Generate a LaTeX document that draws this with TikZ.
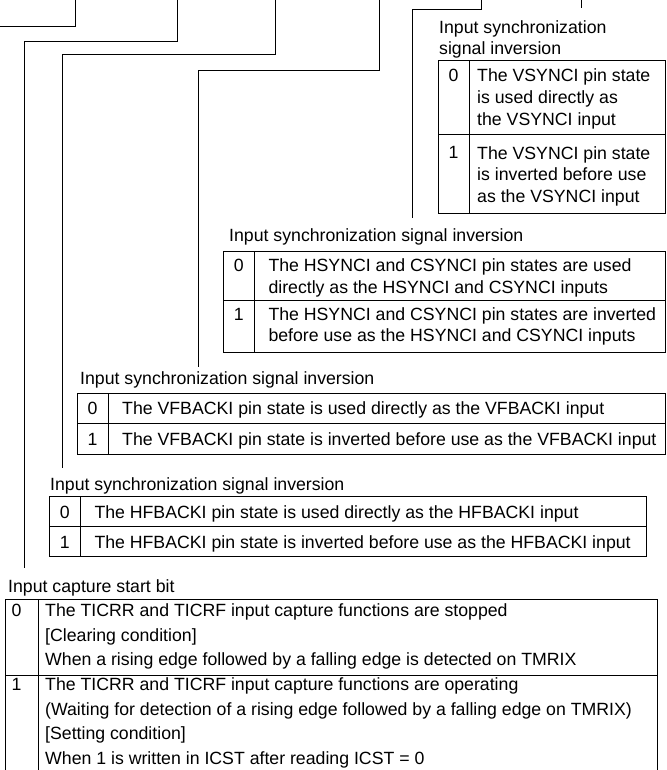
\documentclass[tikz,border=0pt]{standalone}
\usepackage{fontspec}
\setmainfont{Liberation Sans}
\newcommand{\fstrut}{\rule{0pt}{15pt}}
\begin{document}
\begin{tikzpicture}[x=1pt,y=-1pt,
  conn/.style={draw=black, line width=1pt},
  grid/.style={draw=black, line width=1pt},
  txt/.style={anchor=base west, inner sep=0pt, font=\fontsize{17.7}{21.7}\selectfont},
  mtxt/.style={anchor=north west, inner sep=0pt, align=left, font=\fontsize{17.7}{21.7}\selectfont},
  mtxtw/.style={anchor=north west, inner sep=0pt, align=left, font=\fontsize{17.7}{24.5}\selectfont},
  dig/.style={anchor=base, inner sep=0pt, font=\fontsize{17.7}{21.7}\selectfont}]
\useasboundingbox (0,0) rectangle (666,770);

% ---------- connectors ----------
\coordinate (t1) at (75.7,0);  \coordinate (e1) at (0,27);
\coordinate (t2) at (177,0);   \coordinate (k2) at (24.5,41.7);  \coordinate (e2) at (24.5,568);
\coordinate (t3) at (275.7,0); \coordinate (k3) at (62.5,55);    \coordinate (e3) at (62.5,468);
\coordinate (t4) at (379,0);   \coordinate (k4) at (198,70.3);   \coordinate (e4) at (198,367);
\coordinate (t5) at (481.7,0); \coordinate (k5) at (412,10);     \coordinate (e5) at (412,218);
\coordinate (t6) at (581,0);   \coordinate (e6) at (581,8);
\draw[conn] (t1) |- (e1);
\draw[conn] (t2) |- (k2) -- (e2);
\draw[conn] (t3) |- (k3) -- (e3);
\draw[conn] (t4) |- (k4) -- (e4);
\draw[conn] (t5) |- (k5) -- (e5);
\draw[conn] (t6) -- (e6);

% ---------- VSYNCI table ----------
\node[mtxt, font=\fontsize{17.7}{21}\selectfont] (vslab) at (439,18) {\fstrut Input synchronization\\signal inversion};
\draw[grid] (438,61) rectangle (665,213);
\draw[grid] (438,135) -- (665,135);
\draw[grid] (469,61) -- (469,213);
\node[dig] (vs0) at (453.5,81.5) {0};
\node[mtxt] (vs0t) at (477,66.5) {\fstrut The VSYNCI pin state\\is used directly as\\the VSYNCI input};
\node[dig] (vs1) at (453.5,159) {1};
\node[mtxt] (vs1t) at (477,144) {\fstrut The VSYNCI pin state\\is inverted before use\\as the VSYNCI input};

% ---------- HSYNCI table ----------
\node[txt] (hslab) at (229,241) {Input synchronization signal inversion};
\draw[grid] (223.3,251.7) rectangle (665,352.7);
\draw[grid] (223.3,300) -- (665,300);
\draw[grid] (254.3,251.7) -- (254.3,352.7);
\node[dig] (hs0) at (238.8,271.5) {0};
\node[mtxt] (hs0t) at (268.3,256.5) {\fstrut The HSYNCI and CSYNCI pin states are used\\directly as the HSYNCI and CSYNCI inputs};
\node[dig] (hs1) at (238.8,320) {1};
\node[mtxt] (hs1t) at (268.3,305) {\fstrut The HSYNCI and CSYNCI pin states are inverted\\before use as the HSYNCI and CSYNCI inputs};

% ---------- VFBACKI table ----------
\node[txt] (vflab) at (80,384) {Input synchronization signal inversion};
\draw[grid] (77,393) rectangle (665,454);
\draw[grid] (77,423.5) -- (665,423.5);
\draw[grid] (108,393) -- (108,454);
\node[dig] (vf0) at (92.5,414.5) {0};
\node[txt] (vf0t) at (122,414.5) {The VFBACKI pin state is used directly as the VFBACKI input};
\node[dig] (vf1) at (92.5,445) {1};
\node[txt] (vf1t) at (122,445) {The VFBACKI pin state is inverted before use as the VFBACKI input};

% ---------- HFBACKI table ----------
\node[txt] (hflab) at (50,490) {Input synchronization signal inversion};
\draw[grid] (49.3,496.7) rectangle (646,556.7);
\draw[grid] (49.3,526.7) -- (646,526.7);
\draw[grid] (80,496.7) -- (80,556.7);
\node[dig] (hf0) at (64.7,518) {0};
\node[txt] (hf0t) at (94.3,518) {The HFBACKI pin state is used directly as the HFBACKI input};
\node[dig] (hf1) at (64.7,548) {1};
\node[txt] (hf1t) at (94.3,548) {The HFBACKI pin state is inverted before use as the HFBACKI input};

% ---------- ICST table ----------
\node[txt] (iclab) at (8,592) {Input capture start bit};
\draw[grid] (5.7,775) -- (5.7,599) -- (657.7,599) -- (657.7,775);
\draw[grid] (5.7,675) -- (657.7,675);
\draw[grid] (38.3,599) -- (38.3,775);
\node[dig] (ic0) at (16.5,616) {0};
\node[mtxtw, font=\fontsize{17.7}{24.8}\selectfont] (ic0t) at (45,601) {\fstrut The TICRR and TICRF input capture functions are stopped\\{[Clearing condition]}\\When a rising edge followed by a falling edge is detected on TMRIX};
\node[dig] (ic1) at (16.5,690.5) {1};
\node[mtxtw] (ic1t) at (45,675.5) {\fstrut The TICRR and TICRF input capture functions are operating\\(Waiting for detection of a rising edge followed by a falling edge on TMRIX)\\{[Setting condition]}\\When 1 is written in ICST after reading ICST = 0};
\end{tikzpicture}
\end{document}
